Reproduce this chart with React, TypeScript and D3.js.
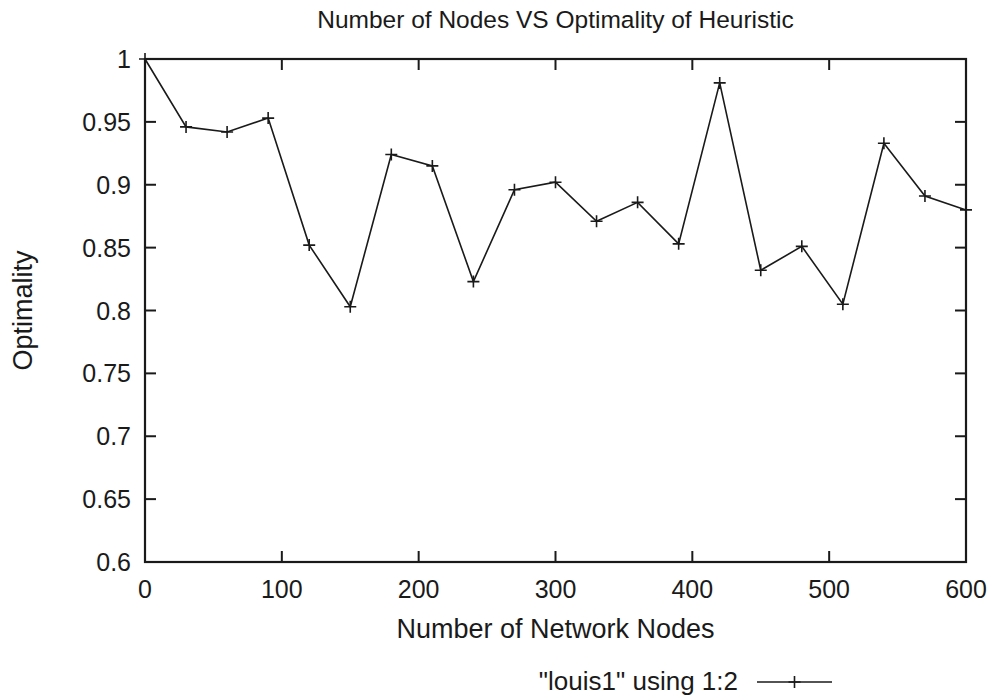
import React, { useEffect, useRef } from "react";
import * as d3 from "d3";

// values
const nodes = [0, 30, 60, 90, 120, 150, 180, 210, 240, 270, 300, 330, 360, 390, 420, 450, 480, 510, 540, 570, 600];
const optimality = [
  1.0, 0.946, 0.942, 0.953, 0.852, 0.803, 0.924, 0.915, 0.823, 0.896, 0.902,
  0.871, 0.886, 0.853, 0.981, 0.832, 0.851, 0.805, 0.933, 0.891, 0.88,
];
const xTicks = [0, 100, 200, 300, 400, 500, 600];
const yTicks = [0.6, 0.65, 0.7, 0.75, 0.8, 0.85, 0.9, 0.95, 1];

const title = "Number of Nodes VS Optimality of Heuristic";
const xLabel = "Number of Network Nodes";
const yLabel = "Optimality";
const legendLabel = '"louis1" using 1:2';

const App = () => {
  const ref = useRef<SVGSVGElement>(null);

  useEffect(() => {
    const width = 995;
    const height = 700;
    const margin = { top: 59, right: 29, bottom: 138, left: 145 };
    const ink = "#1a1a1a";
    const font = "'Liberation Sans', Arial, Helvetica, sans-serif";
    const tickLen = 11;

    const svg = d3.select(ref.current);
    svg.selectAll("*").remove();

    const x = d3.scaleLinear().domain([0, 600]).range([margin.left, width - margin.right]);
    const y = d3.scaleLinear().domain([0.6, 1]).range([height - margin.bottom, margin.top]);

    const [x0, x1] = x.range();
    const [y0, y1] = y.range();

    // ticks on all four sides, pointing inward (gnuplot mirror)
    const ticks = svg.append("g").attr("stroke", ink).attr("stroke-width", 2);
    xTicks.forEach((t) => {
      ticks.append("line").attr("x1", x(t)).attr("x2", x(t)).attr("y1", y0).attr("y2", y0 - tickLen);
      ticks.append("line").attr("x1", x(t)).attr("x2", x(t)).attr("y1", y1).attr("y2", y1 + tickLen);
    });
    yTicks.forEach((t) => {
      ticks.append("line").attr("x1", x0).attr("x2", x0 + tickLen).attr("y1", y(t)).attr("y2", y(t));
      ticks.append("line").attr("x1", x1).attr("x2", x1 - tickLen).attr("y1", y(t)).attr("y2", y(t));
    });

    // frame
    svg
      .append("rect")
      .attr("x", x0)
      .attr("y", y1)
      .attr("width", x1 - x0)
      .attr("height", y0 - y1)
      .attr("fill", "none")
      .attr("stroke", ink)
      .attr("stroke-width", 2.2);

    const text = svg.append("g").attr("fill", ink).style("font-family", font);

    xTicks.forEach((t) => {
      text
        .append("text")
        .attr("x", x(t))
        .attr("y", y0 + 36)
        .attr("text-anchor", "middle")
        .style("font-size", "25px")
        .text(String(t));
    });
    yTicks.forEach((t) => {
      text
        .append("text")
        .attr("x", x0 - 14)
        .attr("y", y(t) + 9)
        .attr("text-anchor", "end")
        .style("font-size", "25px")
        .text(String(t));
    });

    text
      .append("text")
      .attr("x", (x0 + x1) / 2)
      .attr("y", 28)
      .attr("text-anchor", "middle")
      .style("font-size", "24.5px")
      .text(title);

    text
      .append("text")
      .attr("x", (x0 + x1) / 2)
      .attr("y", 638)
      .attr("text-anchor", "middle")
      .style("font-size", "27px")
      .text(xLabel);

    text
      .append("text")
      .attr("transform", `translate(32,${(y0 + y1) / 2}) rotate(-90)`)
      .attr("text-anchor", "middle")
      .style("font-size", "27px")
      .text(yLabel);

    // the series
    const line = d3
      .line<number>()
      .x((d, i) => x(nodes[i]))
      .y((d) => y(d));

    svg
      .append("path")
      .datum(optimality)
      .attr("d", line)
      .attr("fill", "none")
      .attr("stroke", ink)
      .attr("stroke-width", 1.6);

    const plus = (g: any, cx: number, cy: number) => {
      g.append("path")
        .attr("d", `M${cx - 6},${cy}H${cx + 6}M${cx},${cy - 6}V${cy + 6}`)
        .attr("stroke", ink)
        .attr("stroke-width", 1.6);
    };

    const marks = svg.append("g");
    optimality.forEach((v, i) => plus(marks, x(nodes[i]), y(v)));

    // legend
    const legY = 682;
    text
      .append("text")
      .attr("x", 738)
      .attr("y", legY + 8)
      .attr("text-anchor", "end")
      .style("font-size", "26px")
      .text(legendLabel);
    svg
      .append("line")
      .attr("x1", 757)
      .attr("x2", 832)
      .attr("y1", legY)
      .attr("y2", legY)
      .attr("stroke", ink)
      .attr("stroke-width", 1.6);
    plus(svg, 794.5, legY);
  }, []);

  return (
    <svg
      ref={ref}
      width={995}
      height={700}
      style={{ position: "absolute", left: 0, top: 0, background: "#fff" }}
    />
  );
};

export default App;
